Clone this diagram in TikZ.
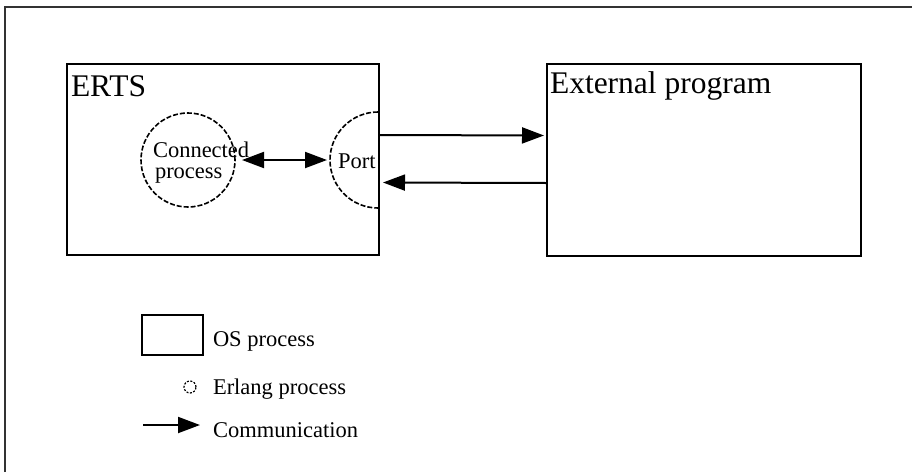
\documentclass[tikz,border=0pt]{standalone}
\usepackage{fontspec}
\setmainfont{Liberation Serif}
\usetikzlibrary{positioning}
\usetikzlibrary{arrows.meta}
\tikzset{
	every node/.style = {inner sep=0pt, outer sep=0pt},
	osbox/.style = {draw, line width=2.5pt},
	erlproc/.style = {draw, circle, line width=1.6pt, dash pattern=on 5pt off 2pt},
	title/.style = {font=\fontsize{31.5}{36}\selectfont},
	smalltext/.style = {font=\fontsize{22.5}{26}\selectfont},
	comm/.style = {line width=2pt, -{Triangle[length=22pt,width=16pt]}},
	commboth/.style = {line width=2pt, {Triangle[length=22pt,width=16pt]}-{Triangle[length=22pt,width=16pt]}}
}
\begin{document}
\begin{tikzpicture}[x=1pt, y=-1pt]
	\useasboundingbox (0,0) rectangle (912,472);
	\clip (0,0) rectangle (912,472);
	% frame
	\draw[line width=2.5pt, black!80] (5,472) -- (5,7) -- (912,7);
	% OS processes
	\node[osbox, minimum width=312pt, minimum height=191pt] (erts) at (223,159.5) {};
	\node[osbox, minimum width=314pt, minimum height=192pt] (ext) at (704,160) {};
	\node[title, anchor=base west] (ertslabel) at (71,96) {ERTS};
	\node[title, anchor=base west] (extlabel) at (550,93) {External program};
	% Erlang processes
	\node[erlproc, minimum size=94pt] (conn) at (188,160) {};
	\node[smalltext, anchor=base west] (connlabel) at (153,157) {Connected};
	\node[smalltext, anchor=base west] (connlabel2) at (155,178) {process};
	\draw[erlproc] (378,112) arc[start angle=90, end angle=270, radius=48pt];
	\coordinate (port) at (330,160);
	\node[smalltext, anchor=base west] (portlabel) at (338,168) {Port};
	% communication
	\draw[commboth, shorten <=7pt, shorten >=3pt] (conn.east) -- (port);
	\draw[comm, shorten >=3pt] ([yshift=24.5pt]erts.east) -- ([yshift=24.5pt]ext.west);
	\draw[comm, shorten >=4pt] ([yshift=-23pt]ext.west) -- ([yshift=-23pt]erts.east);
	% legend
	\node[osbox, line width=2pt, minimum width=61pt, minimum height=40pt] (legbox) at (172.5,335) {};
	\node[smalltext, anchor=base west] (legboxtext) at (213,346) {OS process};
	\node[erlproc, line width=1.2pt, minimum size=12pt, dash pattern=on 2pt off 1.5pt] (legcirc) at (190,387) {};
	\node[smalltext, anchor=base west] (legcirctext) at (213,394) {Erlang process};
	\coordinate (legarrow) at (143,425);
	\coordinate (legarrowend) at (200,425);
	\draw[comm] (legarrow) -- (legarrowend);
	\node[smalltext, anchor=base west] (legcommtext) at (213,437) {Communication};
\end{tikzpicture}
\end{document}
